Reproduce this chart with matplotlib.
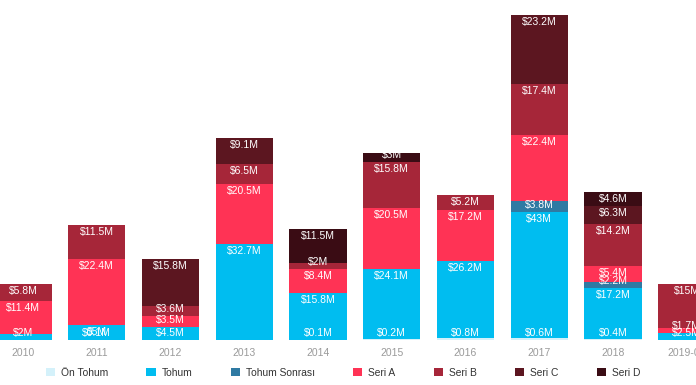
import matplotlib
matplotlib.use("Agg")
import matplotlib.pyplot as plt
from matplotlib.patches import Patch

plt.rcParams['font.family'] = ['Liberation Sans', 'DejaVu Sans']

years = ['2010', '2011', '2012', '2013', '2014', '2015', '2016', '2017', '2018', '2019-06']

# funding per stage, $M (0 = no round)
on_tohum = [0, 0.1, 0, 0, 0.1, 0.2, 0.8, 0.6, 0.4, 0]
tohum = [2, 5, 4.5, 32.7, 15.8, 24.1, 26.2, 43, 17.2, 2.5]
tohum_sonrasi = [0, 0, 0, 0, 0, 0, 0, 3.8, 2.2, 0]
seri_a = [11.4, 22.4, 3.5, 20.5, 8.4, 20.5, 17.2, 22.4, 5.4, 1.7]
seri_b = [5.8, 11.5, 3.6, 6.5, 2, 15.8, 5.2, 17.4, 14.2, 15]
seri_c = [0, 0, 15.8, 9.1, 0, 0, 0, 23.2, 6.3, 0]
seri_d = [0, 0, 0, 0, 11.5, 3, 0, 0, 4.6, 0]

series = [
    ('Ön Tohum', on_tohum, '#d4f1fa'),
    ('Tohum', tohum, '#00bdf0'),
    ('Tohum Sonrası', tohum_sonrasi, '#2f7aa3'),
    ('Seri A', seri_a, '#ff3355'),
    ('Seri B', seri_b, '#a62639'),
    ('Seri C', seri_c, '#5c1620'),
    ('Seri D', seri_d, '#3a0c14'),
]

W, H = 696, 385
fig = plt.figure(figsize=(W / 100, H / 100), dpi=100)
base_px = 45
ax = fig.add_axes([0, base_px / H, 1, 1 - base_px / H])
ymax = 115.6
ax.set_ylim(0, ymax)
x0 = -23 / 73.75
ax.set_xlim(x0, x0 + W / 73.75)

px_per_unit = (H - base_px) / ymax
off = 7 / px_per_unit

xs = list(range(len(years)))
bottoms = [0.0] * len(years)
for name, vals, color in series:
    ax.bar(xs, vals, width=0.773, bottom=bottoms, color=color,
           edgecolor='none', zorder=2)
    for i, v in enumerate(vals):
        if v <= 0:
            continue
        b = bottoms[i]
        top = b + v
        # label sits near the segment top, pushed up for thin segments
        y = max(top - off, b + off)
        ax.text(xs[i], y, f"${v:g}M", ha='center', va='center',
                color='white', fontsize=7.5, zorder=3)
    bottoms = [b + v for b, v in zip(bottoms, vals)]

for s in ax.spines.values():
    s.set_visible(False)
ax.set_yticks([])
ax.set_xticks(xs)
ax.set_xticklabels(years, color='#9a9a9a', fontsize=7.5)
ax.tick_params(axis='x', length=0, pad=6)

handles = [Patch(facecolor=c, edgecolor='none', label=n) for n, _, c in series]
fig.legend(handles=handles, loc='center', bbox_to_anchor=(0.493, 12.5 / H),
           ncol=7, frameon=False, fontsize=7.4, handlelength=0.9,
           handleheight=0.9, handletextpad=0.6, columnspacing=3.7,
           labelcolor='#333333')

fig.savefig('out.png', dpi=100)
